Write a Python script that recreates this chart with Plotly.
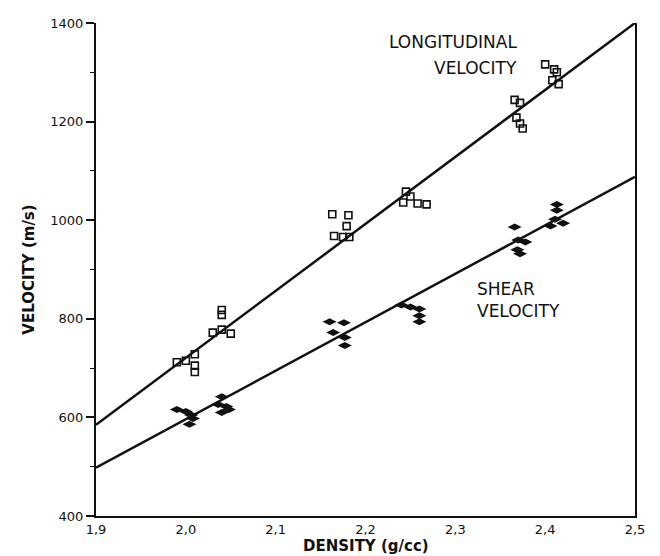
import plotly.graph_objects as go

# Longitudinal velocity measurements (density g/cc, velocity m/s)
long_density = [1.99, 2.00, 2.01, 2.01, 2.01,
                2.04, 2.04, 2.03, 2.04, 2.05,
                2.163, 2.181, 2.179, 2.165, 2.175, 2.182,
                2.245, 2.25, 2.242, 2.258, 2.268,
                2.366, 2.372, 2.368, 2.372, 2.375,
                2.400, 2.410, 2.413, 2.408, 2.415]
long_velocity = [712, 715, 728, 705, 692,
                 818, 808, 772, 778, 770,
                 1012, 1010, 988, 968, 966, 966,
                 1058, 1048, 1036, 1034, 1032,
                 1244, 1238, 1208, 1196, 1186,
                 1316, 1306, 1300, 1284, 1276]

# Shear velocity measurements
shear_density = [1.99, 2.00, 2.006, 2.008, 2.004,
                 2.040, 2.036, 2.045, 2.040, 2.048,
                 2.160, 2.176, 2.164, 2.177, 2.177,
                 2.24, 2.25, 2.26, 2.26, 2.26,
                 2.366, 2.370, 2.378, 2.369, 2.372,
                 2.413, 2.413, 2.411, 2.420, 2.406]
shear_velocity = [616, 612, 605, 598, 586,
                  642, 626, 622, 610, 616,
                  794, 792, 772, 762, 746,
                  828, 824, 820, 806, 794,
                  986, 960, 956, 940, 932,
                  1032, 1020, 1002, 994, 988]

# Fitted lines (end points)
fit_density = [1.9, 2.5]
long_fit = [585, 1400]
shear_fit = [498, 1088]

x_tickvals = [1.9, 2.0, 2.1, 2.2, 2.3, 2.4, 2.5]
x_ticktext = ["1,9", "2,0", "2,1", "2,2", "2,3", "2,4", "2,5"]
y_tickvals = [400, 600, 800, 1000, 1200, 1400]
y_ticktext = ["400", "600", "800", "1000", "1200", "1400"]

ink = "#111111"
fig = go.Figure()
fig.add_trace(go.Scatter(x=fit_density, y=long_fit, mode="lines",
                         line=dict(color=ink, width=2.5), showlegend=False, hoverinfo="skip"))
fig.add_trace(go.Scatter(x=fit_density, y=shear_fit, mode="lines",
                         line=dict(color=ink, width=2.5), showlegend=False, hoverinfo="skip"))
fig.add_trace(go.Scatter(x=long_density, y=long_velocity, mode="markers",
                         marker=dict(symbol="square-open", size=7, color=ink,
                                     line=dict(width=1.6, color=ink)),
                         showlegend=False))
fig.add_trace(go.Scatter(x=shear_density, y=shear_velocity, mode="markers",
                         marker=dict(symbol="diamond-wide", size=10, color=ink,
                                     line=dict(width=0)),
                         showlegend=False))

font_family = "DejaVu Sans"
ann_font = dict(family=font_family, size=17, color=ink)
fig.add_annotation(x=2.371, y=1362, text="LONGITUDINAL", showarrow=False,
                   xanchor="right", yanchor="middle", font=ann_font)
fig.add_annotation(x=2.371, y=1308, text="VELOCITY", showarrow=False,
                   xanchor="right", yanchor="middle", font=ann_font)
fig.add_annotation(x=2.322, y=860, text="SHEAR", showarrow=False,
                   xanchor="left", yanchor="middle", font=ann_font)
fig.add_annotation(x=2.322, y=816, text="VELOCITY", showarrow=False,
                   xanchor="left", yanchor="middle", font=ann_font)
# x-axis title
fig.add_annotation(x=0.5, y=-0.061, xref="paper", yref="paper",
                   text="<b>DENSITY (g/cc)</b>", showarrow=False,
                   xanchor="center", yanchor="middle",
                   font=dict(family=font_family, size=15, color=ink))

fig.update_layout(
    width=652, height=548,
    margin=dict(l=88, r=25, t=8, b=40),
    paper_bgcolor="white", plot_bgcolor="white",
    font=dict(family=font_family, size=14, color=ink),
    xaxis=dict(range=[1.9, 2.5], tickvals=x_tickvals, ticktext=x_ticktext,
               showgrid=False, zeroline=False, showline=True, linecolor=ink,
               linewidth=2, ticks="", tickfont=dict(size=13)),
    yaxis=dict(range=[400, 1400], tickvals=y_tickvals, ticktext=y_ticktext,
               showgrid=False, zeroline=False, showline=True, linecolor=ink,
               linewidth=2, mirror=True, ticks="outside", ticklen=8, tickwidth=1.5,
               tickcolor=ink, tickfont=dict(size=13),
               minor=dict(dtick=100, ticks="outside", ticklen=4, tickcolor=ink, tickwidth=1.2),
               title=dict(text="<b>VELOCITY (m/s)</b>", font=dict(size=15), standoff=12)),
)

fig.write_html("out.html")
